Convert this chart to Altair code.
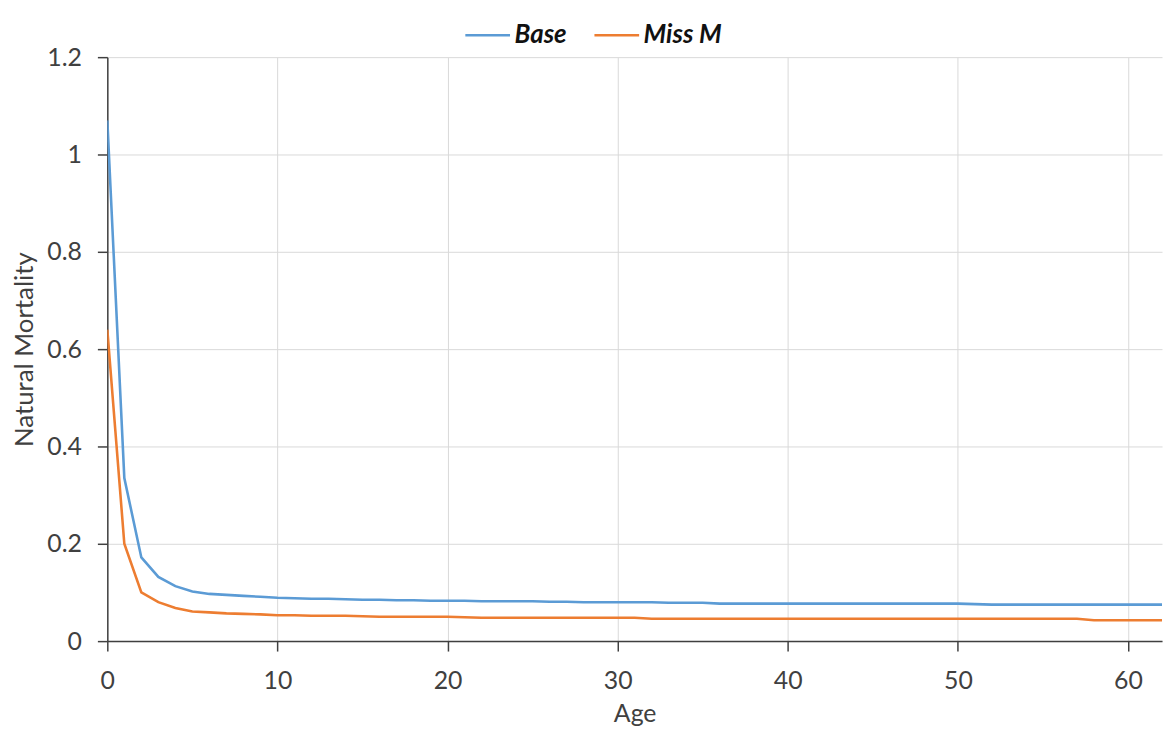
import altair as alt
import pandas as pd

ages = list(range(0, 63))

base = [1.07, 0.335, 0.172, 0.132, 0.113, 0.102, 0.097, 0.095, 0.093, 0.091,
        0.089, 0.088, 0.087, 0.087, 0.086, 0.085, 0.085, 0.084, 0.084, 0.083,
        0.083, 0.083, 0.082, 0.082, 0.082, 0.082, 0.081, 0.081, 0.080, 0.080,
        0.080, 0.080, 0.080, 0.079, 0.079, 0.079, 0.077, 0.077, 0.077, 0.077,
        0.077, 0.077, 0.077, 0.077, 0.077, 0.077, 0.077, 0.077, 0.077, 0.077,
        0.077, 0.076, 0.075, 0.075, 0.075, 0.075, 0.075, 0.075, 0.075, 0.075,
        0.075, 0.075, 0.075]

miss_m = [0.64, 0.200, 0.100, 0.080, 0.068, 0.061, 0.059, 0.057, 0.056, 0.055,
          0.053, 0.053, 0.052, 0.052, 0.052, 0.051, 0.050, 0.050, 0.050, 0.050,
          0.050, 0.049, 0.048, 0.048, 0.048, 0.048, 0.048, 0.048, 0.048, 0.048,
          0.048, 0.048, 0.046, 0.046, 0.046, 0.046, 0.046, 0.046, 0.046, 0.046,
          0.046, 0.046, 0.046, 0.046, 0.046, 0.046, 0.046, 0.046, 0.046, 0.046,
          0.046, 0.046, 0.046, 0.046, 0.046, 0.046, 0.046, 0.046, 0.043, 0.043,
          0.043, 0.043, 0.043]

series_names = ["Base", "Miss M"]
series_colors = ["#5B9BD5", "#ED7D31"]

rows = []
for a, v in zip(ages, base):
    rows.append({"Age": a, "M": v, "Series": "Base"})
for a, v in zip(ages, miss_m):
    rows.append({"Age": a, "M": v, "Series": "Miss M"})
df = pd.DataFrame(rows)

FONT = "Lato"

chart = alt.Chart(df).mark_line(strokeWidth=2.6, clip=True).encode(
    x=alt.X("Age:Q",
            scale=alt.Scale(domain=[0, 62], nice=False, zero=False),
            axis=alt.Axis(title="Age", values=[0, 10, 20, 30, 40, 50, 60],
                          format="d", labelFontSize=25, titleFontSize=25,
                          labelPadding=18, titlePadding=8, tickSize=10,
                          labelFlush=False)),
    y=alt.Y("M:Q",
            scale=alt.Scale(domain=[0, 1.2], nice=False),
            axis=alt.Axis(title="Natural Mortality",
                          values=[0, 0.2, 0.4, 0.6, 0.8, 1.0, 1.2],
                          format="~g", labelFontSize=25, titleFontSize=26,
                          labelPadding=16, titlePadding=9, tickSize=10)),
    color=alt.Color("Series:N",
                    scale=alt.Scale(domain=series_names, range=series_colors),
                    legend=alt.Legend(title=None, orient="none",
                                      direction="horizontal",
                                      legendX=359, legendY=-46,
                                      symbolType="stroke", symbolSize=2025,
                                      symbolStrokeWidth=2.6,
                                      labelFontSize=26, labelFontStyle="italic",
                                      labelFontWeight="bold", labelColor="#111111",
                                      columnPadding=22, labelOffset=3)),
).properties(
    width=1062,
    height=588,
    autosize=alt.AutoSizeParams(type="none"),
    padding={"left": 100, "top": 47, "right": 2, "bottom": 87},
).configure_view(
    stroke=None
).configure_axis(
    labelFont=FONT, titleFont=FONT,
    labelColor="#404040", titleColor="#404040",
    titleFontWeight="normal",
    gridColor="#d9d9d9", gridWidth=1,
    domainColor="#404040", domainWidth=1.5,
    tickColor="#404040", tickWidth=1.5,
).configure_legend(
    labelFont=FONT
)

chart.save("out.html", embed_options={"renderer": "svg", "actions": False})
